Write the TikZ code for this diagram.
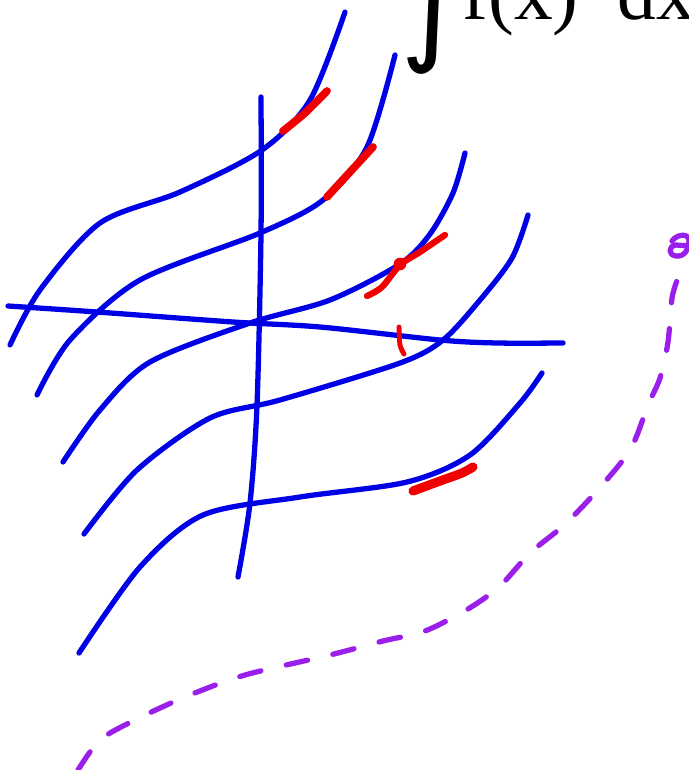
\documentclass[tikz,border=0pt]{standalone}
\usepackage{fontspec}
\setmainfont{Liberation Serif}
\newfontfamily\symfont{DejaVu Sans}
\definecolor{InkBlue}{HTML}{0000E6}
\definecolor{InkRed}{HTML}{F00000}
\definecolor{InkPurple}{HTML}{9B1FEA}
\tikzset{
  levelcurve/.style={InkBlue,line width=1.5pt},
  redstroke/.style={InkRed,line width=2pt},
  purpledash/.style={InkPurple,line width=1.5pt,dash pattern=on 6.2pt off 7.4pt}
}

\begin{document}
\begin{tikzpicture}[x=0.01cm,y=-0.01cm,line cap=round,line join=round]
  \useasboundingbox (0,0) rectangle (689,770);

  % formula at the top, cut by the frame
  \node[anchor=base west,inner sep=0pt,font=\fontsize{22}{26}\selectfont] (integrand) at (462,20) {f(x)\ \ dx};
  \node[anchor=south,inner sep=0pt,font=\symfont\fontsize{36}{42}\selectfont] (intsign) at (433,75) {∫};

  % axes
  \draw[levelcurve] plot[smooth,tension=.5] coordinates {(261,97) (261,233) (257,405) (250,503) (238,577)};
  \draw[levelcurve] plot[smooth,tension=.5] coordinates {(8,306) (97,312) (233,322) (320,327) (440,340) (497,343) (563,343)};

  % level curves
  \draw[levelcurve] plot[smooth,tension=.5] coordinates {(10,345) (40,290) (100,223) (180,192) (262,150) (310,100) (345,12)};
  \draw[levelcurve] plot[smooth,tension=.5] coordinates {(37,395) (70,340) (140,280) (260,233) (323,200) (367,147) (395,55)};
  \draw[levelcurve] plot[smooth,tension=.5] coordinates {(63,462) (100,410) (150,362) (250,323) (330,300) (400,264) (430,234) (453,193) (465,153)};
  \draw[levelcurve] plot[smooth,tension=.5] coordinates {(84,534) (137,470) (210,418) (280,400) (400,363) (443,340) (480,300) (512,258) (528,215)};
  \draw[levelcurve] plot[smooth,tension=.5] coordinates {(79,653) (140,567) (203,515) (300,497) (407,482) (470,455) (520,403) (542,373)};

  % red marks
  \draw[redstroke,line width=2.2pt] plot[smooth] coordinates {(283,131) (305,113) (327,91)};
  \draw[redstroke,line width=2.2pt] plot[smooth] coordinates {(327,197) (350,172) (373,147)};
  \draw[redstroke,line width=1.8pt] plot[smooth] coordinates {(367,296) (382,287) (400,265) (420,252) (445,235)};
  \fill[InkRed] (400,264) circle (1.8pt);
  \draw[redstroke,line width=1.4pt] plot[smooth] coordinates {(399,327) (400,345) (404,354)};
  \draw[redstroke,line width=2.6pt] plot[smooth] coordinates {(413,491) (440,481) (462,473) (473,467)};

  % purple dashed path
  \draw[purpledash] plot[smooth] coordinates {(78,770) (100,740) (135,720) (185,697) (245,675) (330,655) (383,641) (425,631) (468,609) (500,586) (530,553) (563,526) (595,493) (630,450) (648,405) (660,378) (668,342) (672,298) (678,278)};
  \draw[InkPurple,line width=1.5pt] (672,241) .. controls (678,233) and (689,234) .. (689,240)
    .. controls (689,250) and (684,257) .. (676,256) .. controls (668,255) and (668,246) .. (676,245) -- (689,246);
\end{tikzpicture}
\end{document}
